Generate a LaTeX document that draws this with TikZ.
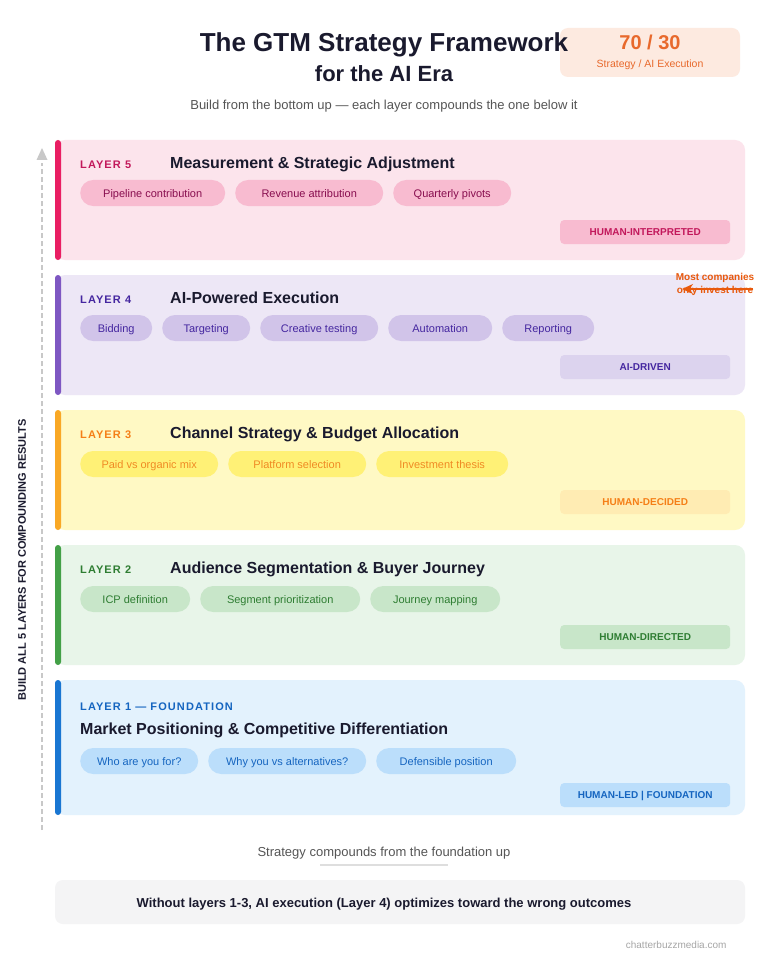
\documentclass[tikz,border=0pt]{standalone}
\usepackage{fontspec}
\setmainfont{Liberation Sans}
\newfontfamily\spacedfont[LetterSpace=10]{Liberation Sans}
\usetikzlibrary{arrows.meta}

\definecolor{ink}{HTML}{1A1A2E}
\definecolor{subgray}{HTML}{555555}
\definecolor{axisgray}{HTML}{C8C8C8}
\definecolor{badgefill}{HTML}{FDEAE0}
\definecolor{badgetext}{HTML}{E8692C}
\definecolor{annot}{HTML}{E8590C}
\definecolor{notefill}{HTML}{F4F4F5}
% layer colours: bg, bar, pill, pill text, label, tag
\definecolor{bgv}{HTML}{FCE4EC}\definecolor{barv}{HTML}{E91E63}\definecolor{pillv}{HTML}{F8BBD0}
\definecolor{ptv}{HTML}{880E4F}\definecolor{labv}{HTML}{C2185B}\definecolor{tagv}{HTML}{F8BBD0}
\definecolor{bgiv}{HTML}{EDE7F6}\definecolor{bariv}{HTML}{7E57C2}\definecolor{pilliv}{HTML}{D1C4E9}
\definecolor{ptiv}{HTML}{4527A0}\definecolor{labiv}{HTML}{4527A0}\definecolor{tagiv}{HTML}{DCD3EE}
\definecolor{bgiii}{HTML}{FFF9C4}\definecolor{bariii}{HTML}{F9A825}\definecolor{pilliii}{HTML}{FFF176}
\definecolor{ptiii}{HTML}{F08A24}\definecolor{labiii}{HTML}{F57F17}\definecolor{tagiii}{HTML}{FFECB3}
\definecolor{bgii}{HTML}{E8F5E9}\definecolor{barii}{HTML}{43A047}\definecolor{pillii}{HTML}{C8E6C9}
\definecolor{ptii}{HTML}{2E7D32}\definecolor{labii}{HTML}{2E7D32}\definecolor{tagii}{HTML}{C8E6C9}
\definecolor{bgi}{HTML}{E3F2FD}\definecolor{bari}{HTML}{1976D2}\definecolor{pilli}{HTML}{BBDEFB}
\definecolor{pti}{HTML}{1565C0}\definecolor{labi}{HTML}{1565C0}\definecolor{tagi}{HTML}{BBDEFB}

\tikzset{
  pill/.style={anchor=west, rounded corners=13pt, minimum height=26pt, inner sep=0pt,
    text height=8pt, text depth=0pt, font=\fontsize{11}{13}\selectfont},
  tagbox/.style={anchor=west, rounded corners=4pt, minimum width=170pt, minimum height=24pt,
    inner sep=0pt, text height=7.2pt, text depth=0pt, font=\bfseries\fontsize{10}{12}\selectfont},
  laylab/.style={anchor=base west, inner sep=0pt, font=\spacedfont\bfseries\fontsize{11}{13}\selectfont},
  laytitle/.style={anchor=base west, inner sep=0pt, text=ink, font=\bfseries\fontsize{16}{19}\selectfont},
}

\begin{document}
\begin{tikzpicture}[x=1pt,y=-1pt]
\useasboundingbox (0,0) rectangle (768,960);
\fill[white] (0,0) rectangle (768,960);

% heading
\fill[badgefill, rounded corners=8pt] (560,28) rectangle (740,77);
\node[anchor=base, text=ink, font=\bfseries\fontsize{26}{30}\selectfont] (title) at (384,52) {The GTM Strategy Framework};
\node[anchor=base, text=ink, font=\bfseries\fontsize{22}{26}\selectfont] (subtitle) at (384,82) {for the AI Era};
\node[anchor=base, text=subgray, font=\fontsize{13}{15}\selectfont] (intro) at (384,110) {Build from the bottom up --- each layer compounds the one below it};
\node[anchor=base, text=badgetext, font=\bfseries\fontsize{20}{24}\selectfont] (ratio) at (650,50) {70 / 30};
\node[anchor=base, text=badgetext, font=\fontsize{10.5}{12}\selectfont] (ratiolab) at (650,68) {Strategy / AI Execution};

% side axis
\coordinate (axbot) at (42,830);
\coordinate (axtop) at (42,163);
\draw[axisgray, line width=1.5pt, dash pattern=on 5pt off 3pt] (axbot) -- (axtop);
\fill[axisgray] (42,148) -- (36.5,160) -- (47.5,160) -- cycle;
\node[rotate=90, text=ink, font=\bfseries\fontsize{11}{13}\selectfont] (axlab) at (22,560) {BUILD ALL 5 LAYERS FOR COMPOUNDING RESULTS};

% layer 5
\fill[bgv, rounded corners=10pt] (55,140) rectangle (745,260);
\fill[barv, rounded corners=3pt] (55,140) rectangle (61,260);
\node[laylab, text=labv] (l5lab) at (80,168) {LAYER 5};
\node[laytitle] (l5title) at (170,168) {Measurement \& Strategic Adjustment};
\node[pill, fill=pillv, text=ptv, minimum width=145pt] (l5a) at (80,193) {Pipeline contribution};
\node[pill, fill=pillv, text=ptv, minimum width=148pt] (l5b) at (235,193) {Revenue attribution};
\node[pill, fill=pillv, text=ptv, minimum width=118pt] (l5c) at (393,193) {Quarterly pivots};
\node[tagbox, fill=tagv, text=labv] (l5tag) at (560,232) {HUMAN-INTERPRETED};

% layer 4
\fill[bgiv, rounded corners=10pt] (55,275) rectangle (745,395);
\fill[bariv, rounded corners=3pt] (55,275) rectangle (61,395);
\node[laylab, text=labiv] (l4lab) at (80,303) {LAYER 4};
\node[laytitle] (l4title) at (170,303) {AI-Powered Execution};
\node[pill, fill=pilliv, text=ptiv, minimum width=72pt] (l4a) at (80,328) {Bidding};
\node[pill, fill=pilliv, text=ptiv, minimum width=88pt] (l4b) at (162,328) {Targeting};
\node[pill, fill=pilliv, text=ptiv, minimum width=118pt] (l4c) at (260,328) {Creative testing};
\node[pill, fill=pilliv, text=ptiv, minimum width=104pt] (l4d) at (388,328) {Automation};
\node[pill, fill=pilliv, text=ptiv, minimum width=92pt] (l4e) at (502,328) {Reporting};
\node[tagbox, fill=tagiv, text=ptiv] (l4tag) at (560,367) {AI-DRIVEN};

% note on layer 4
\node[anchor=base, text=annot, inner sep=0pt, font=\bfseries\fontsize{10}{12}\selectfont] (note1) at (715,280) {Most companies};
\node[anchor=base, text=annot, inner sep=0pt, font=\bfseries\fontsize{10}{12}\selectfont] (note2) at (715,293) {only invest here};
\coordinate (notetip) at (682,289);
\draw[annot, line width=1.6pt, -{Stealth[length=11pt,width=10pt]}] (note2.east |- notetip) -- (notetip);

% layer 3
\fill[bgiii, rounded corners=10pt] (55,410) rectangle (745,530);
\fill[bariii, rounded corners=3pt] (55,410) rectangle (61,530);
\node[laylab, text=labiii] (l3lab) at (80,438) {LAYER 3};
\node[laytitle] (l3title) at (170,438) {Channel Strategy \& Budget Allocation};
\node[pill, fill=pilliii, text=ptiii, minimum width=138pt] (l3a) at (80,464) {Paid vs organic mix};
\node[pill, fill=pilliii, text=ptiii, minimum width=138pt] (l3b) at (228,464) {Platform selection};
\node[pill, fill=pilliii, text=ptiii, minimum width=132pt] (l3c) at (376,464) {Investment thesis};
\node[tagbox, fill=tagiii, text=labiii] (l3tag) at (560,502) {HUMAN-DECIDED};

% layer 2
\fill[bgii, rounded corners=10pt] (55,545) rectangle (745,665);
\fill[barii, rounded corners=3pt] (55,545) rectangle (61,665);
\node[laylab, text=labii] (l2lab) at (80,573) {LAYER 2};
\node[laytitle] (l2title) at (170,573) {Audience Segmentation \& Buyer Journey};
\node[pill, fill=pillii, text=ptii, minimum width=110pt] (l2a) at (80,599) {ICP definition};
\node[pill, fill=pillii, text=ptii, minimum width=160pt] (l2b) at (200,599) {Segment prioritization};
\node[pill, fill=pillii, text=ptii, minimum width=130pt] (l2c) at (370,599) {Journey mapping};
\node[tagbox, fill=tagii, text=ptii] (l2tag) at (560,637) {HUMAN-DIRECTED};

% layer 1
\fill[bgi, rounded corners=10pt] (55,680) rectangle (745,815);
\fill[bari, rounded corners=3pt] (55,680) rectangle (61,815);
\node[laylab, text=labi] (l1lab) at (80,710) {LAYER 1 — FOUNDATION};
\node[laytitle] (l1title) at (80,734) {Market Positioning \& Competitive Differentiation};
\node[pill, fill=pilli, text=pti, minimum width=118pt] (l1a) at (80,761) {Who are you for?};
\node[pill, fill=pilli, text=pti, minimum width=158pt] (l1b) at (208,761) {Why you vs alternatives?};
\node[pill, fill=pilli, text=pti, minimum width=140pt] (l1c) at (376,761) {Defensible position};
\node[tagbox, fill=tagi, text=pti] (l1tag) at (560,795) {HUMAN-LED | FOUNDATION};

% footer
\node[anchor=base, text=subgray, font=\fontsize{13}{15}\selectfont] (foot) at (384,856) {Strategy compounds from the foundation up};
\draw[black!13, line width=2pt] (320,865) -- (448,865);
\fill[notefill, rounded corners=8pt] (55,880) rectangle (745,924);
\node[anchor=base, text=ink, font=\bfseries\fontsize{13}{15}\selectfont] (warn) at (384,907) {Without layers 1-3, AI execution (Layer 4) optimizes toward the wrong outcomes};
\node[anchor=base east, text=black!35, font=\fontsize{10}{12}\selectfont] (src) at (730,948) {chatterbuzzmedia.com};
\end{tikzpicture}
\end{document}
